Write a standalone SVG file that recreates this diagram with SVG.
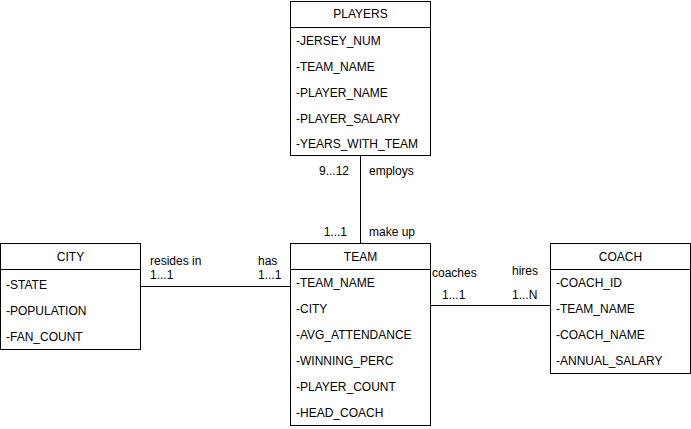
<svg xmlns="http://www.w3.org/2000/svg" width="691" height="429" viewBox="0 0 691 429">
<style>
.box{fill:#fff;stroke:#000;stroke-width:1}
.ln{stroke:#000;stroke-width:1;fill:none}
text{font-family:"Liberation Sans",Arial,sans-serif;font-size:12px;fill:#000}
.c{text-anchor:middle}
.r{text-anchor:end}
</style>
<rect width="691" height="429" fill="#fff"/>
<g id="connectors">
<line class="ln" x1="360.5" y1="155" x2="360.5" y2="243"/>
<line class="ln" x1="140" y1="286.5" x2="290" y2="286.5"/>
<line class="ln" x1="430" y1="305.5" x2="550" y2="305.5"/>
<text class="r" x="349" y="175">9...12</text>
<text x="369" y="175">employs</text>
<text class="r" x="347" y="236">1...1</text>
<text x="369" y="236">make up</text>
<text x="150" y="265">resides in</text>
<text x="150" y="279">1...1</text>
<text x="258" y="265">has</text>
<text x="258" y="279">1...1</text>
<text x="432" y="277">coaches</text>
<text x="442" y="299">1...1</text>
<text x="512" y="275">hires</text>
<text x="512" y="299">1...N</text>
</g>
<g id="players">
<rect class="box" x="290.5" y="1.5" width="140" height="154"/>
<line class="ln" x1="290.5" y1="27.5" x2="430.5" y2="27.5"/>
<text class="c" x="360.5" y="18">PLAYERS</text>
<text x="296" y="45">-JERSEY_NUM</text>
<text x="296" y="71">-TEAM_NAME</text>
<text x="296" y="97">-PLAYER_NAME</text>
<text x="296" y="123">-PLAYER_SALARY</text>
<text x="296" y="148">-YEARS_WITH_TEAM</text>
</g>
<g id="team">
<rect class="box" x="290.5" y="243.5" width="140" height="182"/>
<line class="ln" x1="290.5" y1="269.5" x2="430.5" y2="269.5"/>
<text class="c" x="360.5" y="261">TEAM</text>
<text x="296" y="287">-TEAM_NAME</text>
<text x="296" y="313">-CITY</text>
<text x="296" y="339">-AVG_ATTENDANCE</text>
<text x="296" y="365">-WINNING_PERC</text>
<text x="296" y="391">-PLAYER_COUNT</text>
<text x="296" y="417">-HEAD_COACH</text>
</g>
<g id="city">
<rect class="box" x="0.5" y="243.5" width="140" height="106"/>
<line class="ln" x1="0.5" y1="269.5" x2="140.5" y2="269.5"/>
<text class="c" x="70.5" y="261">CITY</text>
<text x="6" y="289">-STATE</text>
<text x="6" y="315">-POPULATION</text>
<text x="6" y="341">-FAN_COUNT</text>
</g>
<g id="coach">
<rect class="box" x="550.5" y="243.5" width="140" height="130"/>
<line class="ln" x1="550.5" y1="269.5" x2="690.5" y2="269.5"/>
<text class="c" x="620.5" y="261">COACH</text>
<text x="556" y="287">-COACH_ID</text>
<text x="556" y="313">-TEAM_NAME</text>
<text x="556" y="339">-COACH_NAME</text>
<text x="556" y="365">-ANNUAL_SALARY</text>
</g>
</svg>
